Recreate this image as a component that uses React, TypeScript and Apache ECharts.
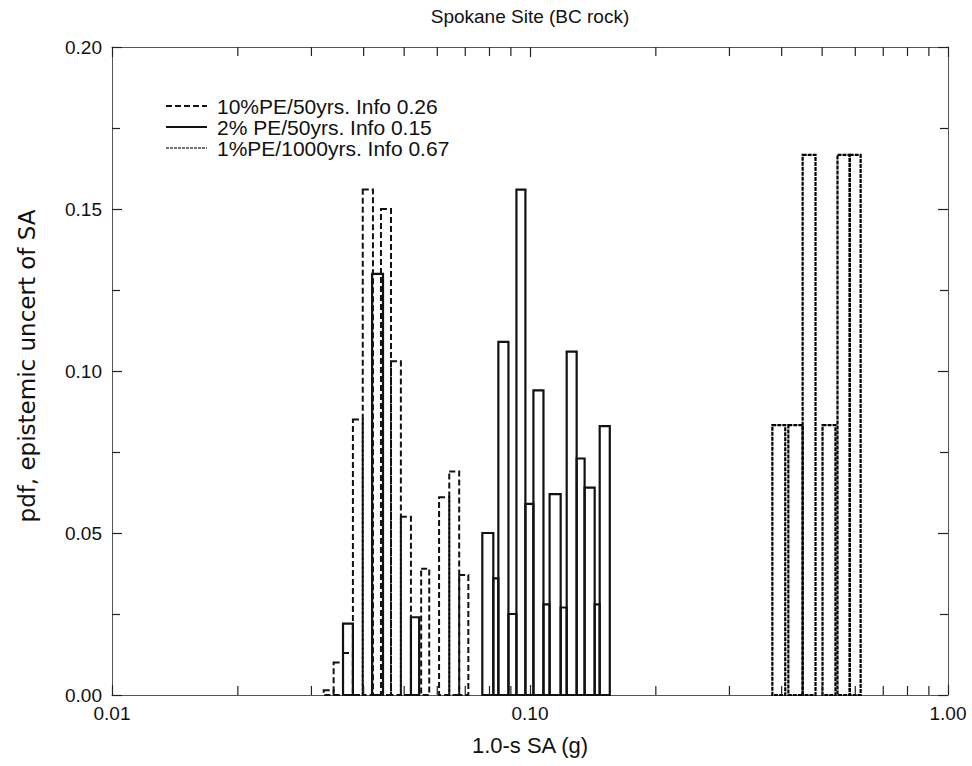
import React, { useEffect, useRef } from "react";
import * as echarts from "echarts";

const chartTitle = "Spokane Site (BC rock)";
const xTitle = "1.0-s SA (g)";
const yTitle = "pdf, epistemic uncert of SA";
const seriesNames = [
  "10%PE/50yrs. Info 0.26",
  "2% PE/50yrs. Info 0.15",
  "1%PE/1000yrs. Info 0.67",
];

// 10% PE in 50 yrs (dashed) : bin low edge, bin high edge (g), pdf
const pe10Lo = [0.0321, 0.0339, 0.0357, 0.0377, 0.0398, 0.044, 0.0465, 0.0491, 0.0549, 0.0606, 0.0641, 0.0677];
const pe10Hi = [0.0339, 0.0357, 0.0377, 0.0398, 0.0421, 0.0465, 0.0491, 0.0519, 0.0574, 0.0641, 0.0677, 0.0712];
const pe10Pdf = [0.0015, 0.01, 0.013, 0.085, 0.156, 0.15, 0.103, 0.055, 0.039, 0.061, 0.069, 0.037];

// 2% PE in 50 yrs (solid)
const pe2Lo = [0.0357, 0.0419, 0.0519, 0.0769, 0.0817, 0.084, 0.0888, 0.0928, 0.0975, 0.1019, 0.1077, 0.1114, 0.1184, 0.1224, 0.1293, 0.1351, 0.1428, 0.1468];
const pe2Hi = [0.0377, 0.0445, 0.0543, 0.0817, 0.084, 0.0888, 0.0928, 0.0975, 0.1019, 0.1077, 0.1114, 0.1184, 0.1224, 0.1293, 0.1351, 0.1428, 0.1468, 0.1552];
const pe2Pdf = [0.022, 0.13, 0.024, 0.05, 0.036, 0.109, 0.025, 0.156, 0.059, 0.094, 0.028, 0.062, 0.027, 0.106, 0.073, 0.064, 0.028, 0.083];

// 1% PE in 1000 yrs (fine line)
const pe1Lo = [0.38, 0.415, 0.449, 0.501, 0.544, 0.582];
const pe1Hi = [0.408, 0.449, 0.482, 0.538, 0.582, 0.618];
const pe1Pdf = [0.0833, 0.0833, 0.1667, 0.0833, 0.1667, 0.1667];

const xMinorTicks = [0.02, 0.03, 0.04, 0.05, 0.06, 0.07, 0.08, 0.09, 0.2, 0.3, 0.4, 0.5, 0.6, 0.7, 0.8, 0.9];

const FONT = '"Liberation Sans", Arial, Helvetica, sans-serif';
const WIDE_FONT = '"DejaVu Sans", "Liberation Sans", Arial, sans-serif';

const styles = [
  { stroke: "#111", lineWidth: 2, lineDash: [6, 3] as number[] | null },
  { stroke: "#111", lineWidth: 2.2, lineDash: null as number[] | null },
  { stroke: "#000", lineWidth: 2.2, lineDash: [4, 1] as number[] | null },
];
const legendStyles = [
  styles[0],
  styles[1],
  { stroke: "#444", lineWidth: 1.4, lineDash: [3, 1] as number[] | null },
];

function histSeries(name: string, lo: number[], hi: number[], pdf: number[], st: any) {
  return {
    type: "custom",
    name,
    xAxisIndex: 0,
    yAxisIndex: 0,
    clip: false,
    silent: true,
    data: lo.map((l, i) => [l, hi[i], pdf[i]]),
    encode: { x: [0, 1], y: 2 },
    renderItem: (_p: any, api: any) => {
      const a = api.coord([api.value(0), api.value(2)]);
      const b = api.coord([api.value(1), 0]);
      return {
        type: "rect",
        shape: { x: a[0], y: a[1], width: b[0] - a[0], height: b[1] - a[1] },
        style: { fill: "none", stroke: st.stroke, lineWidth: st.lineWidth, lineDash: st.lineDash || undefined },
      };
    },
  };
}

export default function App() {
  const ref = useRef<HTMLDivElement>(null);
  useEffect(() => {
    document.body.style.margin = "0";
    if (!ref.current) return;
    const chart = echarts.init(ref.current, undefined, { renderer: "svg" });
    const axisCommon = {
      axisLine: { show: true, onZero: false, lineStyle: { color: "#555", width: 1 } },
      axisTick: { show: true, inside: true, length: 10, lineStyle: { color: "#222", width: 1.2 } },
      splitLine: { show: false },
    };
    const legendRows = [106, 127, 148];
    const graphic: any[] = [
      {
        type: "text",
        x: 530,
        y: 16,
        style: { text: chartTitle, font: `19px ${FONT}`, fill: "#111", align: "center", verticalAlign: "middle" },
      },
      {
        type: "text",
        x: 530,
        y: 745,
        style: { text: xTitle, font: `22px ${FONT}`, fill: "#111", align: "center", verticalAlign: "middle" },
      },
      {
        type: "text",
        x: 27,
        y: 366,
        rotation: Math.PI / 2,
        style: { text: yTitle, font: `23px ${WIDE_FONT}`, fill: "#111", align: "center", verticalAlign: "middle" },
      },
    ];
    seriesNames.forEach((n, i) => {
      graphic.push({
        type: "line",
        shape: { x1: 166, y1: legendRows[i], x2: 207, y2: legendRows[i] },
        style: { stroke: legendStyles[i].stroke, lineWidth: legendStyles[i].lineWidth, lineDash: legendStyles[i].lineDash || undefined },
      });
      graphic.push({
        type: "text",
        x: 217,
        y: legendRows[i],
        style: { text: n, font: `21px ${FONT}`, fill: "#111", align: "left", verticalAlign: "middle" },
      });
    });

    chart.setOption({
      animation: false,
      backgroundColor: "#fff",
      grid: { left: 112, right: 24, top: 47, bottom: 71, containLabel: false },
      xAxis: [
        {
          type: "log",
          logBase: 10,
          min: 0.01,
          max: 1,
          position: "bottom",
          ...axisCommon,
          axisLabel: {
            formatter: (v: number) => Number(v).toFixed(2),
            fontSize: 19,
            fontFamily: FONT,
            color: "#111",
            margin: 9,
          },
        },
        {
          type: "log",
          logBase: 10,
          min: 0.01,
          max: 1,
          position: "top",
          ...axisCommon,
          axisLabel: { show: false },
        },
      ],
      yAxis: [
        {
          type: "value",
          min: 0,
          max: 0.2,
          interval: 0.05,
          position: "left",
          ...axisCommon,
          minorTick: { show: true, splitNumber: 2, length: 8, lineStyle: { color: "#222", width: 1.2 } },
          axisLabel: {
            formatter: (v: number) => v.toFixed(2),
            fontSize: 19,
            fontFamily: FONT,
            color: "#111",
            margin: 10,
          },
        },
        {
          type: "value",
          min: 0,
          max: 0.2,
          interval: 0.05,
          position: "right",
          ...axisCommon,
          minorTick: { show: true, splitNumber: 2, length: 8, lineStyle: { color: "#222", width: 1.2 } },
          axisLabel: { show: false },
        },
      ],
      series: [
        histSeries(seriesNames[0], pe10Lo, pe10Hi, pe10Pdf, styles[0]),
        histSeries(seriesNames[1], pe2Lo, pe2Hi, pe2Pdf, styles[1]),
        histSeries(seriesNames[2], pe1Lo, pe1Hi, pe1Pdf, styles[2]),
        {
          type: "custom",
          name: "minor ticks",
          xAxisIndex: 0,
          yAxisIndex: 0,
          clip: false,
          silent: true,
          data: xMinorTicks.map((v) => [v, 0]),
          encode: { x: 0, y: 1 },
          renderItem: (_p: any, api: any) => {
            const b = api.coord([api.value(0), 0]);
            const t = api.coord([api.value(0), 0.2]);
            return {
              type: "group",
              children: [
                { type: "line", shape: { x1: b[0], y1: b[1], x2: b[0], y2: b[1] - 9 }, style: { stroke: "#222", lineWidth: 1.2 } },
                { type: "line", shape: { x1: t[0], y1: t[1], x2: t[0], y2: t[1] + 9 }, style: { stroke: "#222", lineWidth: 1.2 } },
              ],
            };
          },
        },
      ],
      graphic,
    });
    return () => chart.dispose();
  }, []);
  return <div ref={ref} style={{ width: 972, height: 766 }} />;
}
